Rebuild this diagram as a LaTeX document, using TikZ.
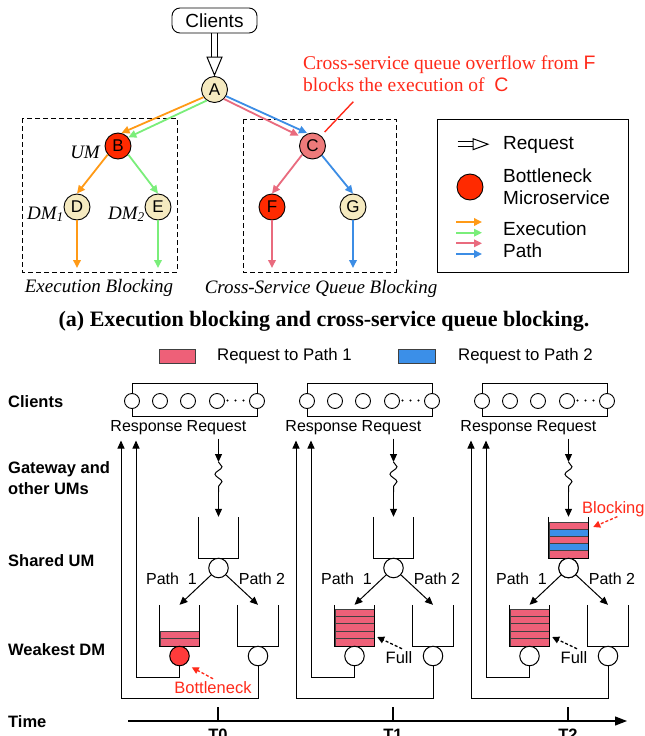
\documentclass[tikz,border=0pt]{standalone}
\usepackage{fontspec}
\setmainfont{Liberation Sans}
\newfontfamily\seriffam{Liberation Serif}
\usetikzlibrary{arrows.meta,decorations.pathmorphing,calc}
\definecolor{cOr}{HTML}{FF9A16}
\definecolor{cGr}{HTML}{7AEE7A}
\definecolor{cPk}{HTML}{E96B7E}
\definecolor{cBl}{HTML}{3C8DE5}
\definecolor{cRed}{HTML}{FF2A00}
\definecolor{cYel}{HTML}{F5EAC0}
\definecolor{cSal}{HTML}{EE7A7A}
\definecolor{cTxtRed}{HTML}{FF2A1A}
\definecolor{barPk}{HTML}{EE6078}
\definecolor{barBl}{HTML}{3B8FE8}
\definecolor{botRed}{HTML}{FF3B3B}
\tikzset{
  svc/.style={circle, draw, line width=0.9pt, minimum size=26pt, inner sep=0pt, font=\fontsize{17}{17}\selectfont},
  parr/.style={line width=1.8pt, -{Triangle[length=8pt,width=7.5pt]}},
  dashbox/.style={dash pattern=on 5pt off 3pt, line width=1pt},
  toptxt/.style={font=\fontsize{19}{22}\selectfont, inner sep=0pt},
  itlbl/.style={font=\seriffam\itshape\fontsize{19}{20}\selectfont, inner sep=0pt},
  qc/.style={circle, draw, fill=white, line width=0.9pt, minimum size=15pt, inner sep=0pt},
  queue/.style={minimum width=39pt, minimum height=41pt, inner sep=0pt},
  barr/.style={line width=1pt, -{Triangle[length=8pt,width=7pt]}},
  scirc/.style={circle, draw, line width=1pt, minimum size=19.5pt, inner sep=0pt},
  lbl/.style={font=\fontsize{16}{16}\selectfont, inner sep=0pt},
  rowlbl/.style={font=\bfseries\fontsize{16.5}{21}\selectfont, anchor=west, inner sep=0pt, align=left},
  barbox/.style={draw=black!75, line width=0.7pt},
  dasharr/.style={line width=1.3pt, dash pattern=on 3pt off 2pt, -{Triangle[length=7pt,width=7pt]}},
  redtxt/.style={text=cTxtRed, font=\fontsize{16.5}{16}\selectfont, inner sep=0pt}
}
\begin{document}
\begin{tikzpicture}[x=1pt,y=-1pt]
\useasboundingbox (0,0) rectangle (645,736);
\fill[white] (0,0) rectangle (645,736);

% ---------- top part ----------
\node[draw, line width=0.9pt, rounded corners=8pt, minimum width=85pt, minimum height=25pt, inner sep=0pt, font=\fontsize{19}{19}\selectfont] (clients) at (214.5,20.5) {Clients};
\node[svc, fill=cYel] (A) at (214.5,89.5) {A};
\node[svc, fill=cRed] (B) at (118,146) {B};
\node[svc, fill=cYel] (D) at (77,207) {D};
\node[svc, fill=cYel] (E) at (158,207) {E};
\node[svc, fill=cSal] (C) at (312.5,146) {C};
\node[svc, fill=cRed] (F) at (272,207) {F};
\node[svc, fill=cYel] (G) at (353,207) {G};

% request double arrow
\coordinate (rtip) at ([yshift=1pt]A.north);
\coordinate (rbase) at ([yshift=18pt]rtip);
\draw[line width=1pt] ([xshift=-3pt]clients.south) -- ([xshift=-3pt]rbase);
\draw[line width=1pt] ([xshift=3pt]clients.south) -- ([xshift=3pt]rbase);
\draw[line width=1pt, fill=white, line join=miter] ([xshift=-7.5pt]rbase) -- ([xshift=7.5pt]rbase) -- (rtip) -- cycle;

% dashed boxes
\draw[dashbox] (22,118) rectangle (177,272);
\draw[dashbox] (243,119) rectangle (396,272);

% execution paths
\draw[parr, cOr] (A.215) -- (B.75);
\draw[parr, cGr] (A.235) -- (B.40);
\draw[parr, cOr] (B.220) -- (D.north);
\draw[parr, cGr] (B.-40) -- (E.north);
\coordinate (Dend) at (77,268);
\coordinate (Eend) at (158,268);
\draw[parr, cOr] (D.south) -- (Dend);
\draw[parr, cGr] (E.south) -- (Eend);
\draw[parr, cPk, shorten >=4pt] (A.-45) -- (C.140);
\draw[parr, cBl, shorten >=1pt] (A.-30) -- (C.110);
\draw[parr, cPk] (C.220) -- (F.north);
\draw[parr, cBl] (C.-45) -- (G.north);
\coordinate (Fend) at (272,268);
\coordinate (Gend) at (353,268);
\draw[parr, cPk] (F.south) -- (Fend);
\draw[parr, cBl] (G.south) -- (Gend);

% labels
\node[itlbl, anchor=base east] (um) at (100,158) {UM};
\node[itlbl, anchor=base east] (dm1) at (64,219) {DM\textsubscript{1}};
\node[itlbl, anchor=base east] (dm2) at (145,219) {DM\textsubscript{2}};
\node[itlbl] (eb) at (99,288) {Execution Blocking};
\node[itlbl] (csqb) at (321,289) {Cross-Service Queue Blocking};

% red note
\node[anchor=north west, align=left, text=cTxtRed, font=\seriffam\fontsize{19.5}{22}\selectfont, inner sep=0pt] (note) at (303,56) {Cross-service queue overflow from {\rmfamily F}\\blocks the execution of \ {\rmfamily C}};
\coordinate (cofrom) at (353.3,101.7);
\draw[cTxtRed, line width=1.4pt, shorten >=5pt] (cofrom) -- (C.50);

% legend
\draw[line width=1pt] (437,119) rectangle (628,272);
\coordinate (lgA) at (457.5,144.2);
\coordinate (lgB) at (488,144.2);
\draw[line width=1pt] ([yshift=2.5pt]lgA) -- ([yshift=2.5pt,xshift=-15pt]lgB);
\draw[line width=1pt] ([yshift=-2.5pt]lgA) -- ([yshift=-2.5pt,xshift=-15pt]lgB);
\draw[line width=1pt, fill=white, line join=miter] ([yshift=5.5pt,xshift=-15pt]lgB) -- ([yshift=-5.5pt,xshift=-15pt]lgB) -- (lgB) -- cycle;
\node[toptxt, anchor=west] (lreq) at (503,144.5) {Request};
\node[svc, fill=cRed] (lbot) at (470,187) {};
\node[toptxt, anchor=west, align=left] (lbott) at (503,187) {Bottleneck\\Microservice};
\foreach \yy/\cc/\nm in {222/cOr/l1,232.7/cGr/l2,243.3/cPk/l3,254/cBl/l4} {
  \coordinate (\nm a) at (456,\yy);
  \coordinate (\nm b) at (482,\yy);
  \draw[parr, \cc] (\nm a) -- (\nm b);
}
\node[toptxt, anchor=west, align=left] (lexe) at (503,240) {Execution\\Path};

% caption
\node[font=\seriffam\bfseries\fontsize{22}{22}\selectfont, inner sep=0pt] (cap) at (324,321) {(a) Execution blocking and cross-service queue blocking.};

% ---------- bottom part ----------
\node[barbox, fill=barPk, minimum width=36pt, minimum height=14pt, inner sep=0pt] (lg1) at (177,356) {};
\node[lbl, font=\fontsize{16.8}{16}\selectfont, anchor=west] (lg1t) at (217,356) {Request to Path 1};
\node[barbox, fill=barBl, minimum width=37pt, minimum height=14pt, inner sep=0pt] (lg2) at (416.5,356) {};
\node[lbl, font=\fontsize{16.8}{16}\selectfont, anchor=west] (lg2t) at (458,356) {Request to Path 2};

\node[rowlbl] (rl1) at (8,402) {Clients};
\node[rowlbl] (rl2) at (8,478.5) {Gateway and\\other UMs};
\node[rowlbl] (rl3) at (8,561) {Shared UM};
\node[rowlbl] (rl4) at (8,650) {Weakest DM};
\node[rowlbl] (rl5) at (8,722) {Time};

\foreach \i/\dx/\n/\lcol in {0/0/2/botRed,1/175/5/white,2/350/5/white} {
  \begin{scope}[xshift=\dx]
    \node[draw, line width=1pt, minimum width=125pt, minimum height=33pt, inner sep=0pt] (cb\i) at (194.5,400) {};
    \foreach \cx/\k in {132/1,160/2,188/3,217/4,257/5}
      \node[qc] (cc\i-\k) at (\cx,401) {};
    \foreach \ddx in {227.5,235.5,243.5}
      \fill (\ddx,400.5) circle (1.2pt);
    \node[lbl] (resp\i) at (146.5,428) {Response};
    \node[lbl] (req\i) at (216.5,428) {Request};
    % request path
    \coordinate (w1\i) at (218.5,462);
    \coordinate (w2\i) at (218.5,492);
    \node[queue] (sq\i) at (218.5,537.5) {};
    \draw[barr] (218.5,438.5) -- (w1\i);
    \draw[line width=1pt, decorate, decoration={snake, amplitude=3.5pt, segment length=15pt}] (w1\i) -- (w2\i);
    \draw[barr] (w2\i) -- (sq\i.north);
    \node[scirc, fill=white] (sc\i) at (218.5,568) {};
    % DM queues
    \node[queue] (lq\i) at (179.5,625.5) {};
    \node[queue, minimum width=40pt] (rq\i) at (258,625.5) {};
    \foreach \k in {1,...,\n}
      \draw[barbox, fill=barPk] (160,{646-7.4*\k}) rectangle (199,{646-7.4*(\k-1)});
    \draw[line width=1pt] (sq\i.north west) -- (sq\i.south west) -- (sq\i.south east) -- (sq\i.north east);
    \draw[line width=1pt] (lq\i.north west) -- (lq\i.south west) -- (lq\i.south east) -- (lq\i.north east);
    \draw[line width=1pt] (rq\i.north west) -- (rq\i.south west) -- (rq\i.south east) -- (rq\i.north east);
    \node[scirc, fill=\lcol] (lc\i) at (179.5,656) {};
    \node[scirc, fill=white] (rc\i) at (258,656) {};
    \draw[barr] (sc\i) -- (lq\i.north);
    \draw[barr] (sc\i) -- (rq\i.north);
    \node[lbl] (p1\i) at (171.5,579) {Path\ \ 1};
    \node[lbl] (p2\i) at (262,579) {Path 2};
    % response lines
    \coordinate (ri\i) at (136,440.5);
    \coordinate (ro\i) at (121,440.5);
    \draw[barr] (lc\i.south) -- ++(0,11) -| (ri\i);
    \draw[barr] (rc\i.south) -- ++(0,32) -| (ro\i);
  \end{scope}
}

% shared queue bars at T2 (drawn over)
\foreach \k/\cc in {1/barPk,2/barBl,3/barPk,4/barBl,5/barPk}
  \draw[barbox, fill=\cc] (549,{558-7.2*\k}) rectangle (588,{558-7.2*(\k-1)});
\draw[line width=1pt] (sq2.north west) -- (sq2.south west) -- (sq2.south east) -- (sq2.north east);
\node[scirc, fill=white] at (sc2) {};

% annotations
\node[redtxt] (bn) at (213,688) {Bottleneck};
\draw[dasharr, cTxtRed] ([yshift=3pt]bn.north) -- ([shift={(5,4)}]lc0.south east);
\node[lbl, font=\fontsize{16.5}{16}\selectfont] (full1) at (399,658) {Full};
\draw[dasharr] ([shift={(3,-3)}]full1.north) -- ([shift={(3,11.5)}]lq1.east);
\node[lbl, font=\fontsize{16.5}{16}\selectfont] (full2) at (574,658) {Full};
\draw[dasharr] ([shift={(3,-3)}]full2.north) -- ([shift={(3,11.5)}]lq2.east);
\node[redtxt, anchor=base west] (blk) at (582,513) {Blocking};
\draw[dasharr, cTxtRed] ([xshift=4pt]blk.south) -- ([shift={(5,-10.5)}]sq2.east);

% time axis
\coordinate (ta) at (128,721);
\coordinate (tb) at (627,721);
\draw[line width=1.3pt, -{Triangle[length=12pt,width=9pt]}] (ta) -- (tb);
\foreach \tx/\tl in {218/T0,393/T1,568/T2} {
  \draw[line width=1.3pt] (\tx,707) -- (\tx,721);
  \node[font=\bfseries\fontsize{16.5}{16}\selectfont, anchor=north, inner sep=0pt] at (\tx,729) {\tl};
}
\end{tikzpicture}
\end{document}
